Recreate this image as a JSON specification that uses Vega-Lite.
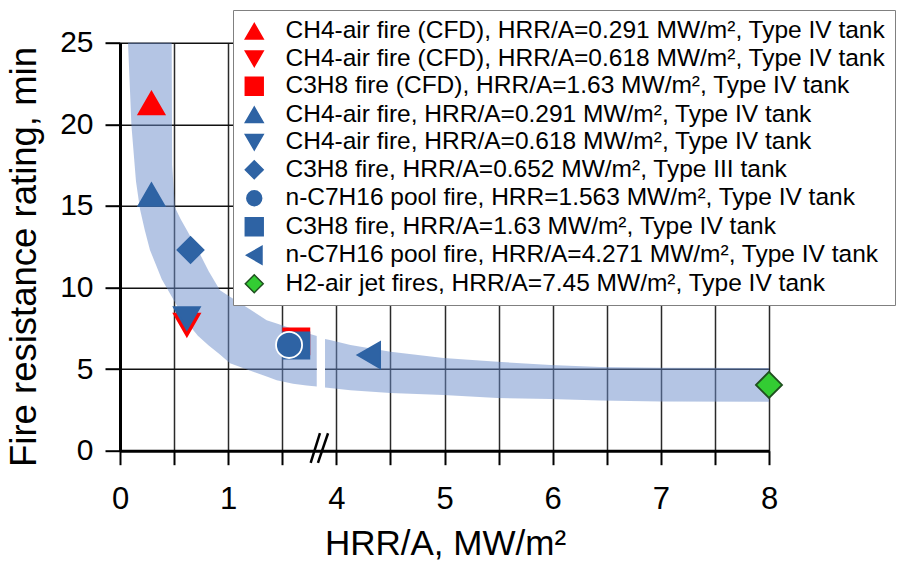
{
  "$schema": "https://vega.github.io/schema/vega-lite/v6.json",
  "width": 649,
  "height": 408,
  "autosize": {"type": "none"},
  "padding": {"left": 120, "top": 42.7, "right": 132, "bottom": 112.3},
  "background": "white",
  "config": {
    "view": {"stroke": null},
    "font": "Liberation Sans",
    "axis": {
      "domainColor": "black",
      "domainWidth": 3,
      "tickColor": "black",
      "tickWidth": 2,
      "labelColor": "black",
      "titleColor": "black",
      "labelFont": "Liberation Sans",
      "titleFont": "Liberation Sans",
      "titleFontWeight": "normal",
      "labelFlush": false,
      "labelOverlap": false,
      "grid": true
    }
  },
  "datasets": {
    "band": [
      {"piece": "a", "x": 0.074, "y": 25, "low": 25},
      {"piece": "a", "x": 0.106, "y": 25, "low": 19.9},
      {"piece": "a", "x": 0.148, "y": 25, "low": 16.5},
      {"piece": "a", "x": 0.185, "y": 25, "low": 14.8},
      {"piece": "a", "x": 0.23, "y": 25, "low": 13.5},
      {"piece": "a", "x": 0.277, "y": 25, "low": 12.3},
      {"piece": "a", "x": 0.386, "y": 25, "low": 10.5},
      {"piece": "a", "x": 0.478, "y": 25, "low": 9.45},
      {"piece": "a", "x": 0.482, "y": 17.5, "low": 9.4},
      {"piece": "a", "x": 0.508, "y": 14.9, "low": 9.1},
      {"piece": "a", "x": 0.56, "y": 14.2, "low": 8.5},
      {"piece": "a", "x": 0.62, "y": 13.5, "low": 7.85},
      {"piece": "a", "x": 0.72, "y": 12.3, "low": 7.05},
      {"piece": "a", "x": 0.82, "y": 11.0, "low": 6.45},
      {"piece": "a", "x": 0.924, "y": 9.83, "low": 5.9},
      {"piece": "a", "x": 1.017, "y": 9.44, "low": 5.36},
      {"piece": "a", "x": 1.2, "y": 8.66, "low": 4.92},
      {"piece": "a", "x": 1.356, "y": 8.0, "low": 4.54},
      {"piece": "a", "x": 1.449, "y": 7.8, "low": 4.32},
      {"piece": "a", "x": 1.6, "y": 7.45, "low": 4.1},
      {"piece": "a", "x": 1.726, "y": 7.21, "low": 3.99},
      {"piece": "a", "x": 1.82, "y": 7.03, "low": 3.93},
      {"piece": "b", "x": 3.895, "y": 6.85, "low": 3.87},
      {"piece": "b", "x": 3.94, "y": 6.78, "low": 3.84},
      {"piece": "b", "x": 4.13, "y": 6.48, "low": 3.7},
      {"piece": "b", "x": 4.5, "y": 6.07, "low": 3.54},
      {"piece": "b", "x": 4.99, "y": 5.68, "low": 3.41},
      {"piece": "b", "x": 5.49, "y": 5.45, "low": 3.23},
      {"piece": "b", "x": 5.98, "y": 5.25, "low": 3.17},
      {"piece": "b", "x": 6.44, "y": 5.13, "low": 3.07},
      {"piece": "b", "x": 7.0, "y": 5.09, "low": 3.02},
      {"piece": "b", "x": 8.0, "y": 5.07, "low": 3.0}
    ],
    "gap": [
      {"x": 1.82, "x2": 3.895, "y": 3.6, "y2": 7.4}
    ],
    "pts": [
      {"series": "CH4-air fire (CFD), HRR/A=0.291 MW/m², Type IV tank", "x": 0.291, "y": 21.3},
      {"series": "CH4-air fire (CFD), HRR/A=0.618 MW/m², Type IV tank", "x": 0.618, "y": 7.7},
      {"series": "C3H8 fire (CFD), HRR/A=1.63 MW/m², Type IV tank", "x": 1.63, "y": 6.7},
      {"series": "CH4-air fire, HRR/A=0.291 MW/m², Type IV tank", "x": 0.291, "y": 15.7},
      {"series": "CH4-air fire, HRR/A=0.618 MW/m², Type IV tank", "x": 0.618, "y": 8.1},
      {"series": "C3H8 fire, HRR/A=0.652 MW/m², Type III tank", "x": 0.652, "y": 12.3},
      {"series": "C3H8 fire, HRR/A=1.63 MW/m², Type IV tank", "x": 1.63, "y": 6.45},
      {"series": "n-C7H16 pool fire, HRR=1.563 MW/m², Type IV tank", "x": 1.563, "y": 6.48},
      {"series": "n-C7H16 pool fire, HRR/A=4.271 MW/m², Type IV tank", "x": 4.3, "y": 5.86},
      {"series": "H2-air jet fires, HRR/A=7.45 MW/m², Type IV tank", "x": 8.0, "y": 4.03}
    ],
    "brk": [
      {"x": 1.763, "y": -0.75, "x2": 1.849, "y2": 1.07},
      {"x": 1.83, "y": -0.75, "x2": 3.923, "y2": 1.07}
    ]
  },
  "encoding": {
    "x": {
      "field": "x",
      "type": "quantitative",
      "scale": {"domain": [0, 1.85, 3.85, 8], "range": [0, 200.1, 200.15, 649], "nice": false, "zero": false},
      "axis": {
        "values": [0, 0.5, 1, 1.5, 4, 4.5, 5, 5.5, 6, 6.5, 7, 7.5, 8],
        "labelExpr": "datum.value % 1 == 0 ? format(datum.value, 'd') : ''",
        "title": "HRR/A, MW/m²",
        "gridColor": "#2a2a2a",
        "gridWidth": 1.5,
        "tickSize": 14,
        "labelPadding": 20,
        "labelFontSize": 31,
        "titleFontSize": 35,
        "titleX": 325,
        "titleY": 103.5,
        "titleAlign": "center",
        "titleBaseline": "alphabetic"
      }
    },
    "y": {
      "field": "y",
      "type": "quantitative",
      "scale": {"domain": [0, 25], "nice": false, "zero": true},
      "axis": {
        "values": [0, 5, 10, 15, 20, 25],
        "title": "Fire resistance rating, min",
        "gridColor": "#111111",
        "gridWidth": 1.5,
        "tickSize": 15,
        "labelPadding": 12,
        "labelFontSize": 30,
        "titleFontSize": 36.5,
        "titleAngle": -90,
        "titleX": -85,
        "titleY": 213.8,
        "titleAlign": "center",
        "titleBaseline": "alphabetic"
      }
    }
  },
  "layer": [
    {
      "data": {"name": "band"},
      "mark": {"type": "area", "color": "#6a8bca", "opacity": 0.5, "interpolate": "linear"},
      "encoding": {
        "y2": {"field": "low"},
        "detail": {"field": "piece", "type": "nominal"}
      }
    },
    {
      "data": {"name": "gap"},
      "mark": {"type": "rect", "color": "white"},
      "encoding": {
        "x2": {"field": "x2"},
        "y2": {"field": "y2"}
      }
    },
    {
      "data": {"name": "pts"},
      "mark": {"type": "point", "filled": true, "opacity": 1, "strokeWidth": 1.8, "size": 680},
      "encoding": {
        "color": {
          "field": "series", "type": "nominal",
          "scale": {
            "domain": [
              "CH4-air fire (CFD), HRR/A=0.291 MW/m², Type IV tank",
              "CH4-air fire (CFD), HRR/A=0.618 MW/m², Type IV tank",
              "C3H8 fire (CFD), HRR/A=1.63 MW/m², Type IV tank",
              "CH4-air fire, HRR/A=0.291 MW/m², Type IV tank",
              "CH4-air fire, HRR/A=0.618 MW/m², Type IV tank",
              "C3H8 fire, HRR/A=0.652 MW/m², Type III tank",
              "n-C7H16 pool fire, HRR=1.563 MW/m², Type IV tank",
              "C3H8 fire, HRR/A=1.63 MW/m², Type IV tank",
              "n-C7H16 pool fire, HRR/A=4.271 MW/m², Type IV tank",
              "H2-air jet fires, HRR/A=7.45 MW/m², Type IV tank"
            ],
            "range": ["#ff0000", "#ff0000", "#ff0000", "#2e63a4", "#2e63a4", "#2e63a4", "#2e63a4", "#2e63a4", "#2e63a4", "#33cc33"]
          },
          "legend": {
            "title": null,
            "orient": "none",
            "legendX": 113,
            "legendY": -32.7,
            "labelFont": "Liberation Sans",
            "labelFontSize": 24.5,
            "labelLimit": 900,
            "labelColor": "black",
            "symbolSize": 320,
            "padding": 9,
            "rowPadding": 2.5,
            "labelOffset": 19,
            "strokeColor": "#808080",
            "fillColor": "white",
            "encode": {
              "symbols": {
                "update": {
                  "stroke": {"signal": "indexof(datum.value, 'H2') === 0 ? '#1f4f1f' : 'transparent'"},
                  "strokeWidth": {"value": 1.5}
                }
              }
            }
          }
        },
        "shape": {
          "field": "series", "type": "nominal",
          "scale": {
            "domain": [
              "CH4-air fire (CFD), HRR/A=0.291 MW/m², Type IV tank",
              "CH4-air fire (CFD), HRR/A=0.618 MW/m², Type IV tank",
              "C3H8 fire (CFD), HRR/A=1.63 MW/m², Type IV tank",
              "CH4-air fire, HRR/A=0.291 MW/m², Type IV tank",
              "CH4-air fire, HRR/A=0.618 MW/m², Type IV tank",
              "C3H8 fire, HRR/A=0.652 MW/m², Type III tank",
              "n-C7H16 pool fire, HRR=1.563 MW/m², Type IV tank",
              "C3H8 fire, HRR/A=1.63 MW/m², Type IV tank",
              "n-C7H16 pool fire, HRR/A=4.271 MW/m², Type IV tank",
              "H2-air jet fires, HRR/A=7.45 MW/m², Type IV tank"
            ],
            "range": ["triangle-up", "triangle-down", "square", "triangle-up", "triangle-down", "diamond", "circle", "square", "triangle-left", "diamond"]
          },
          "legend": {"title": null}
        },
        "stroke": {
          "field": "series", "type": "nominal", "legend": null,
          "scale": {
            "domain": [
              "CH4-air fire (CFD), HRR/A=0.291 MW/m², Type IV tank",
              "CH4-air fire (CFD), HRR/A=0.618 MW/m², Type IV tank",
              "C3H8 fire (CFD), HRR/A=1.63 MW/m², Type IV tank",
              "CH4-air fire, HRR/A=0.291 MW/m², Type IV tank",
              "CH4-air fire, HRR/A=0.618 MW/m², Type IV tank",
              "C3H8 fire, HRR/A=0.652 MW/m², Type III tank",
              "n-C7H16 pool fire, HRR=1.563 MW/m², Type IV tank",
              "C3H8 fire, HRR/A=1.63 MW/m², Type IV tank",
              "n-C7H16 pool fire, HRR/A=4.271 MW/m², Type IV tank",
              "H2-air jet fires, HRR/A=7.45 MW/m², Type IV tank"
            ],
            "range": ["#ff0000", "#ff0000", "#ff0000", "#2e63a4", "#2e63a4", "#2e63a4", "white", "#2e63a4", "#2e63a4", "#1f4f1f"]
          }
        }
      }
    },
    {
      "data": {"name": "brk"},
      "mark": {"type": "rule", "color": "black", "strokeWidth": 2.5},
      "encoding": {
        "x2": {"field": "x2"},
        "y2": {"field": "y2"}
      }
    }
  ]
}
